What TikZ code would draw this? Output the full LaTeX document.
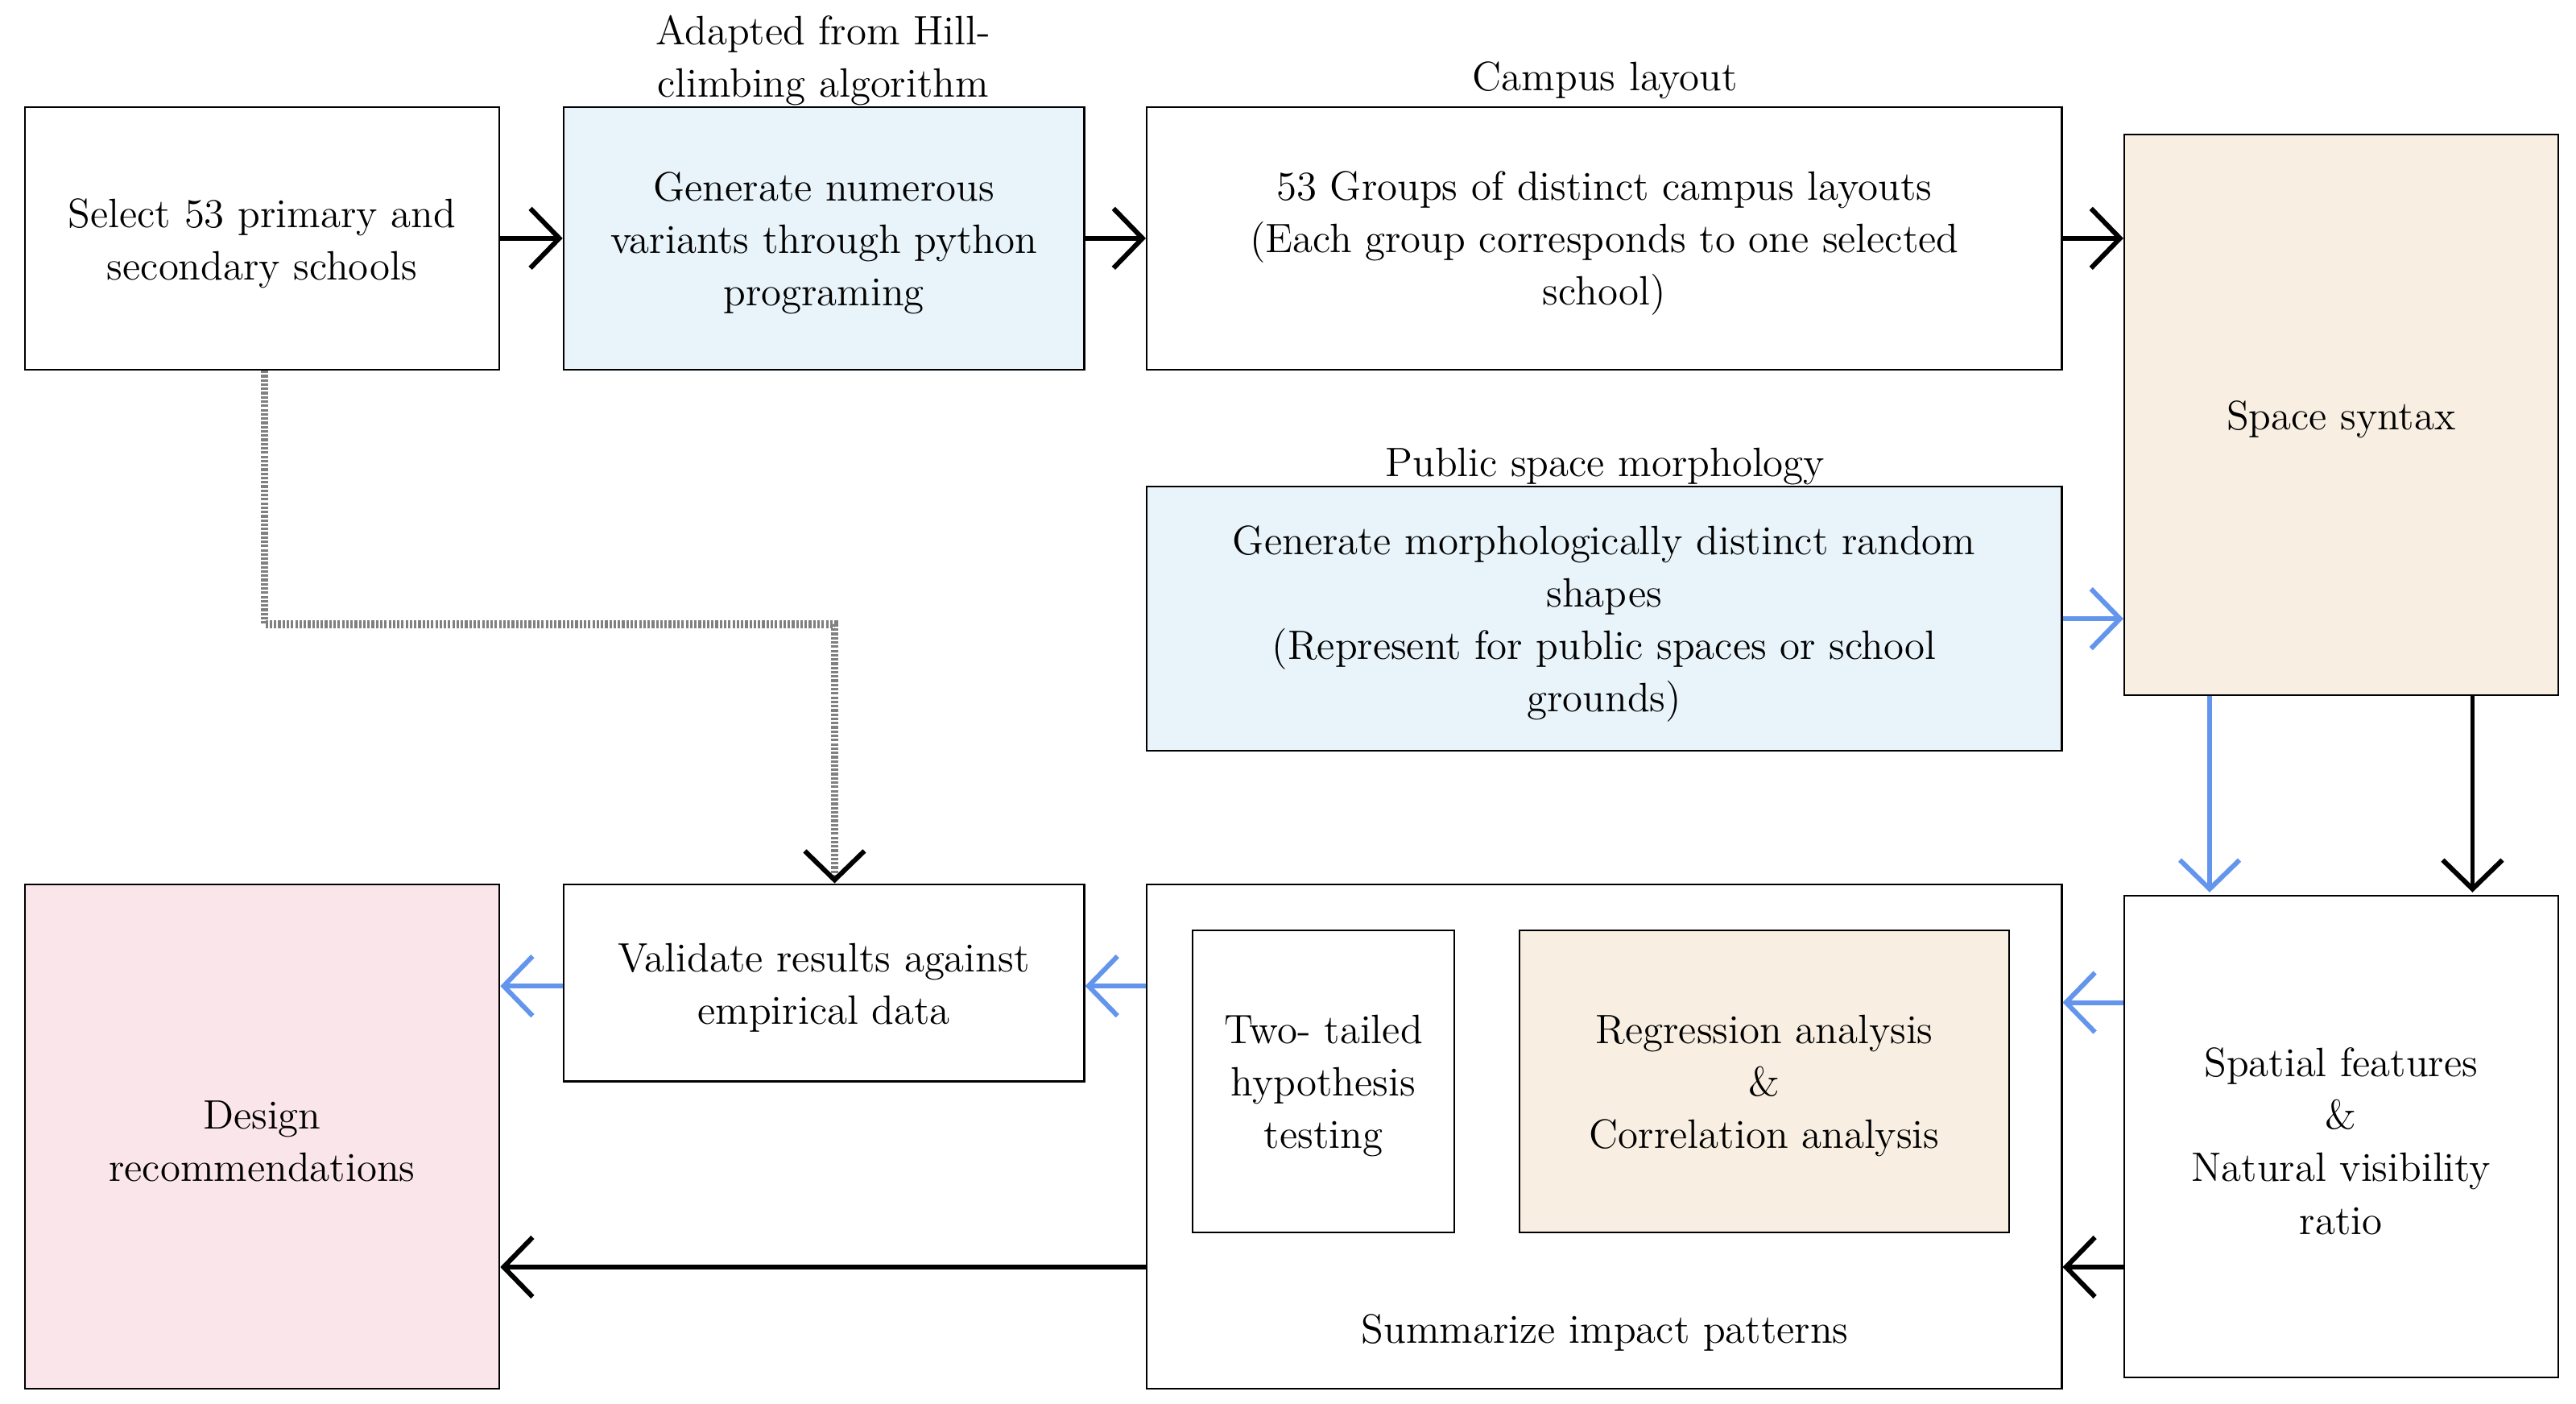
\documentclass[tikz,border=0pt]{standalone}
\usetikzlibrary{arrows.meta,fit}
\definecolor{lblue}{RGB}{232,244,250}
\definecolor{beige}{RGB}{248,238,226}
\definecolor{pinkf}{RGB}{250,230,234}
\definecolor{arrblue}{RGB}{100,149,237}
\begin{document}
\begin{tikzpicture}[x=0.0204cm,y=-0.0204cm,
  every node/.style={font=\fontsize{14.5}{18.5}\selectfont},
  box/.style={draw,line width=0.6pt,inner sep=0pt},
  lab/.style={align=center,inner sep=0pt},
  txt/.style={lab,yshift=-0.06cm},
  tip/.style={-{Straight Barb[length=0.36cm,width=0.74cm,line width=1.7pt]}},
  arr/.style={tip,line width=1.7pt,black},
  barr/.style={tip,line width=1.7pt,arrblue},
  dots/.style={draw=gray,line width=2.8pt,dash pattern=on 0.9pt off 0.6pt,
    -{Straight Barb[length=0.36cm,width=0.74cm,line width=1.7pt,color=black]}}]
\useasboundingbox (0,0) rectangle (1568,854);
\node[box,fit={(15,65)(304,225)}] (A) {};
\node[box,fill=lblue,fit={(343,65)(660,225)}] (B) {};
\node[box,fit={(698,65)(1255,225)}] (C) {};
\node[box,fill=beige,fit={(1293,82)(1557,423)}] (D) {};
\node[box,fill=lblue,fit={(698,296)(1255,457)}] (E) {};
\node[box,fit={(1293,545)(1557,838)}] (F) {};
\node[box,fit={(698,538)(1255,845)}] (G) {};
\node[box,fit={(726,566)(885,750)}] (G1) {};
\node[box,fill=beige,fit={(925,566)(1223,750)}] (G2) {};
\node[box,fit={(343,538)(660,658)}] (H) {};
\node[box,fill=pinkf,fit={(15,538)(304,845)}] (I) {};
\node[txt] (At) at (A.center) {Select 53 primary and\\secondary schools};
\node[txt] (Bt) at (B.center) {Generate numerous\\variants through python\\programing};
\node[txt] (Ct) at (C.center) {53 Groups of distinct campus layouts\\(Each group corresponds to one selected\\school)};
\node[txt] (Dt) at (D.center) {Space syntax};
\node[txt] (Et) at (E.center) {Generate morphologically distinct random\\shapes\\(Represent for public spaces or school\\grounds)};
\node[txt] (Ft) at (F.center) {Spatial features\\\&\\Natural visibility\\ratio};
\node[txt] (G1t) at (G1.center) {Two- tailed\\hypothesis\\testing};
\node[txt] (G2t) at (G2.center) {Regression analysis\\\&\\Correlation analysis};
\node[txt] (Ht) at (H.center) {Validate results against\\empirical data};
\node[txt] (It) at (I.center) {Design\\recommendations};
\node[lab] (Gt) at (977,811) {Summarize impact patterns};
\node[lab] (L1) at (501,37) {Adapted from Hill-\\climbing algorithm};
\node[lab] (L2) at (977,49) {Campus layout};
\node[lab] (L3) at (977,284) {Public space morphology};
\draw[arr] (A.east) -- (B.west);
\draw[arr] (B.east) -- (C.west);
\draw[arr] (C.east) -- (C.east -| D.west);
\draw[barr] (E.east) -- (E.east -| D.west);
\draw[barr] (1345,0 |- D.south) -- (1345,543);
\draw[arr] (1505,0 |- D.south) -- (1505,543);
\draw[barr] (F.west |- 0,610) -- (G.east |- 0,610);
\draw[arr] (F.west |- 0,771) -- (G.east |- 0,771);
\draw[barr] (G.west |- 0,600) -- (H.east |- 0,600);
\draw[barr] (H.west |- 0,600) -- (I.east |- 0,600);
\draw[arr] (G.west |- 0,771) -- (I.east |- 0,771);
\draw[dots] (161,0 |- A.south) -- (161,380) -- (508,380) -- (508,0 |- H.north);
\end{tikzpicture}
\end{document}
